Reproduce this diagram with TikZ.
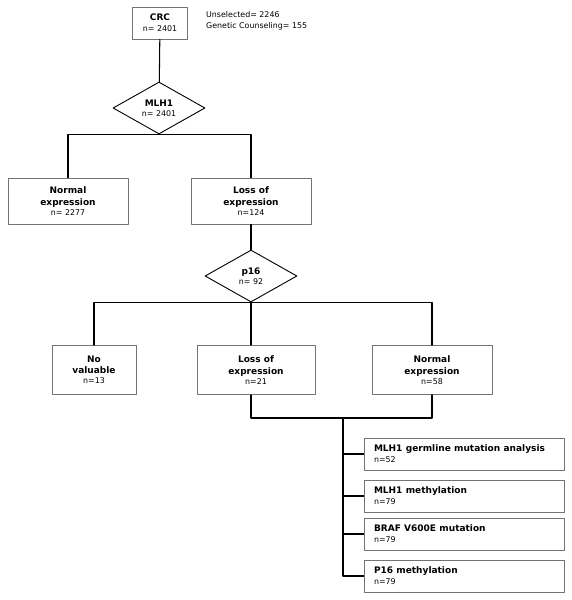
\documentclass[tikz,border=0pt]{standalone}
\usepackage{fontspec}
\setmainfont{DejaVu Sans}
\usetikzlibrary{shapes.geometric}

\tikzset{
  box/.style={draw=black!55,line width=0.9pt,minimum width=120pt,minimum height=46pt,inner sep=2pt,align=center},
  rbox/.style={draw=black!55,line width=0.9pt,minimum width=200pt,minimum height=32pt,text width=180pt,inner sep=0pt,align=left},
  dmd/.style={draw=black,line width=0.9pt,diamond,aspect=1.77,minimum width=92pt,minimum height=52pt,inner sep=0pt,align=center},
  link/.style={line width=1.05pt},
}
\newcommand{\hd}[1]{{\fontsize{9}{13}\selectfont\bfseries #1}}
\newcommand{\nn}[1]{{\fontsize{7.9}{10}\selectfont #1}}

\begin{document}
\begin{tikzpicture}[line cap=round,line join=round,x=1pt,y=-1pt]
			\useasboundingbox (0,0) rectangle (572,600);
			% top
			\node [box,minimum width=55pt,minimum height=32pt] (crc) at (160,23) {\hd{CRC}\\[-1pt]\nn{n= 2401}};
			\node [anchor=north west,align=left,inner sep=0pt] (side) at (206,11) {\nn{Unselected= 2246}\\[-1pt]\nn{Genetic Counseling= 155}};
			\node [dmd] (mlh1) at (159,108) {\hd{MLH1}\\[-2pt]\nn{n= 2401}};
			% MLH1 result
			\node [box] (norm1) at (68,201) {\hd{Normal}\\[-0.5pt]\hd{expression}\\[-2pt]\nn{n= 2277}};
			\node [box] (loss1) at (251,201) {\hd{Loss of}\\[-0.5pt]\hd{expression}\\[-2pt]\nn{n=124}};
			\node [dmd] (p16) at (251,276) {\hd{p16}\\[-2pt]\nn{n= 92}};
			% p16 result
			\node [box,minimum width=84pt,minimum height=49pt] (noval) at (94,370) {\hd{No}\\[-0.5pt]\hd{valuable}\\[-2pt]\nn{n=13}};
			\node [box,minimum width=118pt,minimum height=49pt] (loss2) at (256,370) {\hd{Loss of}\\[-0.5pt]\hd{expression}\\[-2pt]\nn{n=21}};
			\node [box,minimum width=120pt,minimum height=49pt] (norm2) at (432,370) {\hd{Normal}\\[-0.5pt]\hd{expression}\\[-2pt]\nn{n=58}};
			% analyses
			\node [rbox] (germ) at (464,454) {\hd{MLH1 germline mutation analysis}\\[-1pt]\nn{n=52}};
			\node [rbox] (mlhm) at (464,496) {\hd{MLH1 methylation}\\[-1pt]\nn{n=79}};
			\node [rbox] (braf) at (464,534) {\hd{BRAF V600E mutation}\\[-1pt]\nn{n=79}};
			\node [rbox] (p16m) at (464,576) {\hd{P16 methylation}\\[-1pt]\nn{n=79}};
			\coordinate (jn) at (343,418);
			% connectors
			\draw [link] (crc) -- (mlh1);
			\draw [link] (norm1.north) |- (mlh1.south) -| (loss1.north);
			\draw [link] (loss1) -- (p16);
			\draw [link] (noval.north) |- (p16.south) -| (norm2.north);
			\draw [link] (p16.south) -- (p16.south |- loss2.north);
			\draw [link] (p16.south |- loss2.south) |- (jn) -| (norm2.south);
			\draw [link] (jn) |- (p16m.west);
			\draw [link] (jn |- germ.west) -- (germ.west);
			\draw [link] (jn |- mlhm.west) -- (mlhm.west);
			\draw [link] (jn |- braf.west) -- (braf.west);
		\end{tikzpicture}
\end{document}
